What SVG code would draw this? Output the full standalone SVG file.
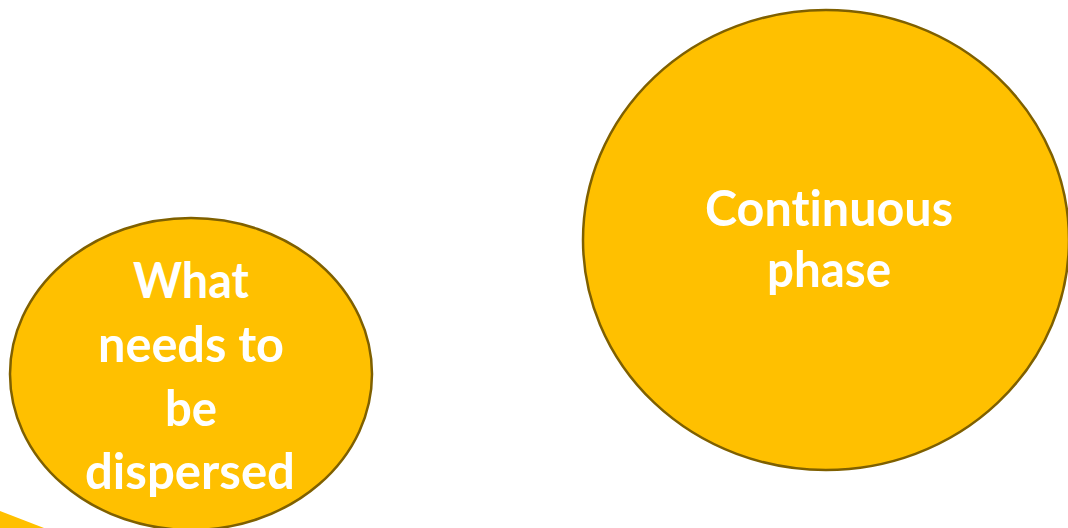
<svg xmlns="http://www.w3.org/2000/svg" width="1068" height="528" viewBox="0 0 1068 528">
  <style>
    .bubble { fill: #FFC000; stroke: #7F6000; stroke-width: 2.5; }
    .label { fill: #FFFFFF; font-family: Lato, "Open Sans", "Liberation Sans", sans-serif; font-weight: bold; font-size: 49px; text-anchor: middle; font-variant-ligatures: none; font-feature-settings: "liga" 0, "clig" 0; }
    .band { fill: #FFC000; }
  </style>
  <rect width="1068" height="528" fill="#FFFFFF"/>

  <!-- edge of a shape running off the bottom-left corner -->
  <polygon class="band" points="0,511 44,528 0,528"/>

  <g id="node-dispersed">
    <ellipse class="bubble" cx="191" cy="374" rx="181" ry="156"/>
    <text class="label" x="191" y="298" textLength="116" lengthAdjust="spacingAndGlyphs">What</text>
    <text class="label" x="191" y="362" textLength="186" lengthAdjust="spacingAndGlyphs">needs to</text>
    <text class="label" x="191" y="426" textLength="52" lengthAdjust="spacingAndGlyphs">be</text>
    <text class="label" x="190" y="489" textLength="210" lengthAdjust="spacingAndGlyphs">dispersed</text>
  </g>

  <g id="node-continuous">
    <ellipse class="bubble" cx="826" cy="240" rx="243" ry="230"/>
    <text class="label" x="829" y="226" textLength="248" lengthAdjust="spacingAndGlyphs">Continuous</text>
    <text class="label" x="829" y="287" textLength="124" lengthAdjust="spacingAndGlyphs">phase</text>
  </g>

  <g id="connectors"/>
</svg>
